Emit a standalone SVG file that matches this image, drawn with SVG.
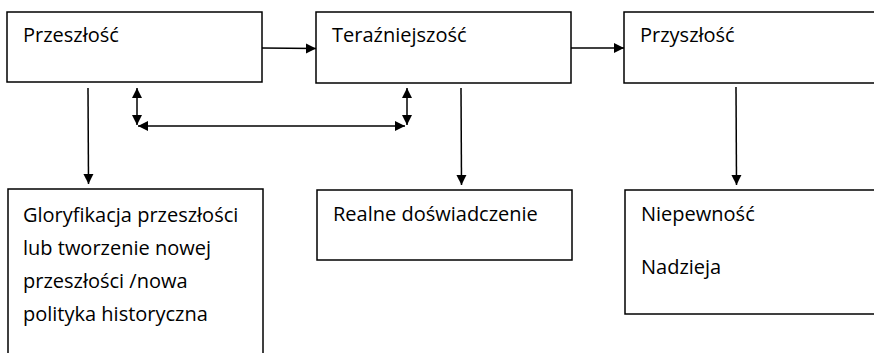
<svg xmlns="http://www.w3.org/2000/svg" width="874" height="353" viewBox="0 0 874 353">
<style>
.box{fill:#fff;stroke:#000;stroke-width:1.5}
.t{font-family:"Open Sans","Liberation Sans",sans-serif;font-size:20px;fill:#000}
.ln{stroke:#000;stroke-width:1.5;fill:none}
</style>
<defs>
<marker id="ah" markerWidth="12" markerHeight="12" refX="10" refY="6" orient="auto-start-reverse" markerUnits="userSpaceOnUse">
<path d="M0,1 L10,6 L0,11 Z" fill="#000"/>
</marker>
</defs>
<rect width="874" height="353" fill="#fff"/>
<g id="przeszlosc"><rect class="box" x="7" y="12" width="255" height="70"/><text class="t" x="23" y="42">Przeszłość</text></g>
<g id="terazniejszosc"><rect class="box" x="316" y="12" width="255" height="71"/><text class="t" x="332" y="42">Teraźniejszość</text></g>
<g id="przyszlosc"><rect class="box" x="624" y="12" width="260" height="71"/><text class="t" x="640" y="42">Przyszłość</text></g>
<g id="gloryfikacja"><rect class="box" x="8" y="189" width="255" height="180"/>
<text class="t" x="23" y="222">Gloryfikacja przeszłości</text>
<text class="t" x="23" y="255">lub tworzenie nowej</text>
<text class="t" x="23" y="288">przeszłości /nowa</text>
<text class="t" x="23" y="321">polityka historyczna</text></g>
<g id="realne"><rect class="box" x="317" y="190" width="255" height="70"/><text class="t" x="333" y="221">Realne doświadczenie</text></g>
<g id="niepewnosc"><rect class="box" x="625" y="190" width="260" height="124"/><text class="t" x="641" y="221">Niepewność</text><text class="t" x="641" y="274">Nadzieja</text></g>
<g id="connectors">
<line class="ln" x1="262" y1="48" x2="316" y2="48.5" marker-end="url(#ah)"/>
<line class="ln" x1="571" y1="48" x2="624" y2="48" marker-end="url(#ah)"/>
<line class="ln" x1="88" y1="88" x2="88.5" y2="184" marker-end="url(#ah)"/>
<line class="ln" x1="461" y1="88" x2="461.5" y2="185" marker-end="url(#ah)"/>
<line class="ln" x1="736" y1="87" x2="736.5" y2="185" marker-end="url(#ah)"/>
<line class="ln" x1="137" y1="88" x2="137" y2="125" marker-start="url(#ah)" marker-end="url(#ah)"/>
<line class="ln" x1="407" y1="88" x2="407" y2="125" marker-start="url(#ah)" marker-end="url(#ah)"/>
<line class="ln" x1="138" y1="126" x2="405" y2="126" marker-start="url(#ah)" marker-end="url(#ah)"/>
</g>
</svg>
